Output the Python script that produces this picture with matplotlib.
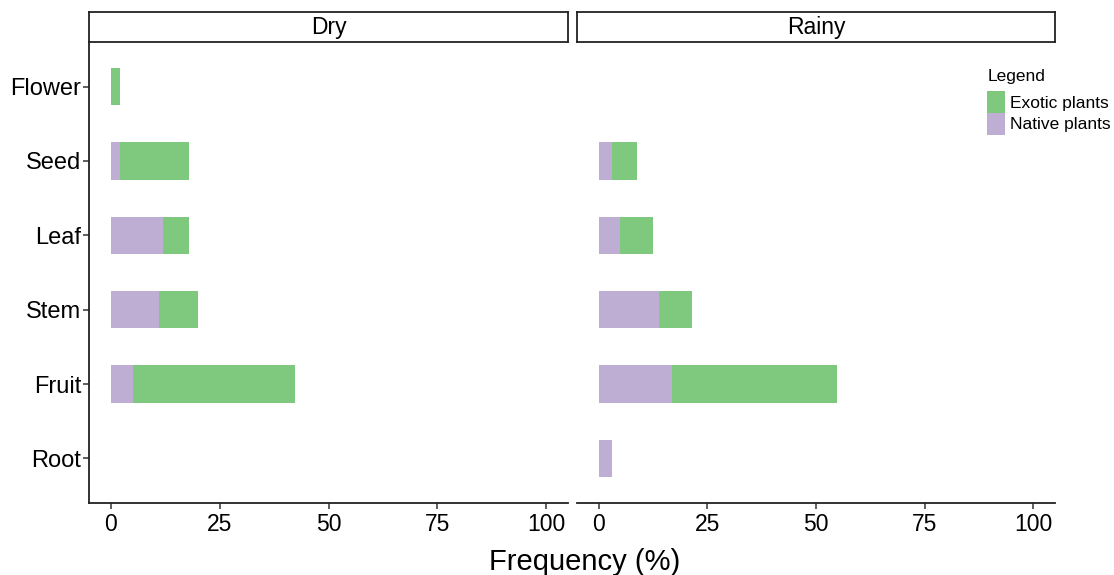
import numpy as np
import matplotlib
matplotlib.use("Agg")
import matplotlib.pyplot as plt
from matplotlib.patches import Patch

plt.rcParams['font.family'] = ['Liberation Sans', 'DejaVu Sans']

# categories, top to bottom
parts = ["Flower", "Seed", "Leaf", "Stem", "Fruit", "Root"]
seasons = ["Dry", "Rainy"]

# frequency (%) per part
native_dry = [0, 2.1, 12.1, 11.1, 5.1, 0]
exotic_dry = [2.1, 15.9, 5.9, 9.0, 37.1, 0]
native_rainy = [0, 3.0, 5.0, 13.9, 16.8, 3.0]
exotic_rainy = [0, 5.8, 7.6, 7.6, 38.1, 0]

xticks = [0, 25, 50, 75, 100]

green = "#7FC97F"
purple = "#BEAED4"

fig = plt.figure(figsize=(11.14, 5.75), dpi=100)

W, H = 1114, 575
panels = [(89, 568), (577, 1055)]
top, bottom = 42, 503
strip_top = 12

data = {"Dry": (native_dry, exotic_dry), "Rainy": (native_rainy, exotic_rainy)}
ypos = np.arange(len(parts))[::-1] + 1

for i, season in enumerate(seasons):
    l, r = panels[i]
    ax = fig.add_axes([l / W, 1 - bottom / H, (r - l) / W, (bottom - top) / H])
    nat, exo = data[season]
    ax.barh(ypos, nat, height=0.5, color=purple, edgecolor="none")
    ax.barh(ypos, exo, left=nat, height=0.5, color=green, edgecolor="none")
    ax.set_xlim(-5, 105)
    ax.set_ylim(0.4, len(parts) + 0.6)
    ax.set_xticks(xticks)
    ax.set_xticklabels([str(t) for t in xticks], fontsize=16.5)
    for s in ["top", "right"]:
        ax.spines[s].set_visible(False)
    ax.spines["bottom"].set_linewidth(1.3)
    ax.spines["bottom"].set_color("#222222")
    ax.tick_params(axis="x", length=4, width=1.1, color="#333333", pad=3)
    if i == 0:
        ax.set_yticks(ypos)
        ax.set_yticklabels(parts, fontsize=17)
        ax.spines["left"].set_linewidth(1.3)
        ax.spines["left"].set_color("#222222")
        ax.tick_params(axis="y", length=4, width=1.1, color="#333333", pad=1.5)
    else:
        ax.spines["left"].set_visible(False)
        ax.set_yticks([])

    # facet strip
    sax = fig.add_axes([l / W, 1 - top / H, (r - l) / W, (top - strip_top) / H])
    sax.set_xticks([])
    sax.set_yticks([])
    for s in sax.spines.values():
        s.set_linewidth(1.3)
        s.set_color("#222222")
    sax.text(0.5, 0.48, season, ha="center", va="center", fontsize=16.5,
             transform=sax.transAxes)

fig.text(585 / W, 1 - 562 / H, "Frequency (%)", ha="center", va="center", fontsize=21)

handles = [Patch(facecolor=green, edgecolor="none", label="Exotic plants"),
           Patch(facecolor=purple, edgecolor="none", label="Native plants")]
leg = fig.legend(handles=handles, title="Legend", loc="upper left",
                 bbox_to_anchor=(982 / W, 1 - 64 / H), frameon=False,
                 fontsize=12.5, title_fontsize=12.5, handlelength=1.05, handleheight=1.55,
                 handletextpad=0.25, labelspacing=0.0, borderaxespad=0,
                 borderpad=0.3)
leg._legend_box.align = "left"
leg._legend_box.sep = 5

fig.savefig("out.png", dpi=100)
